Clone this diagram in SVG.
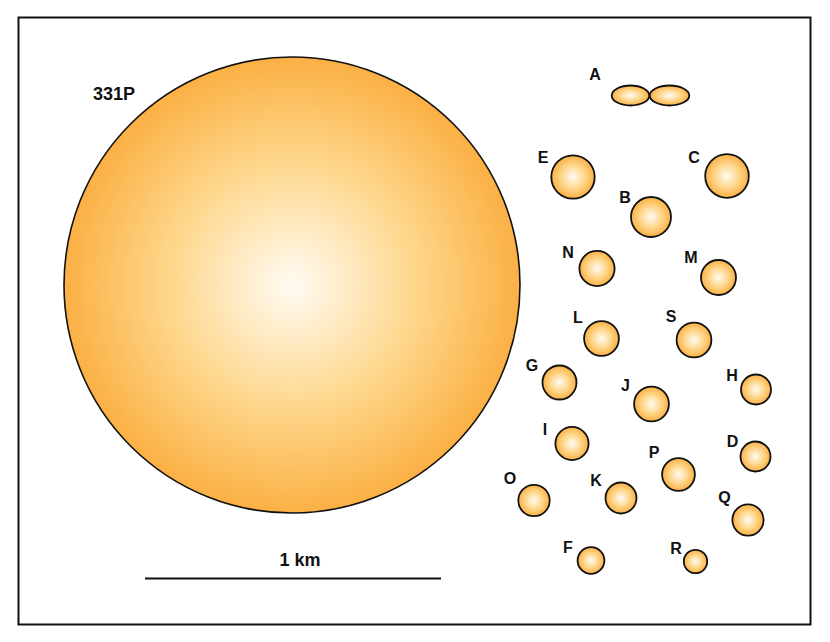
<svg xmlns="http://www.w3.org/2000/svg" width="830" height="642" viewBox="0 0 830 642">
<style>
.lbl{font-family:"Liberation Sans",Arial,sans-serif;font-weight:bold;font-size:16px;fill:#111;text-anchor:middle}
.big{font-size:18px}
.body{fill:url(#g);stroke:#111;stroke-width:1.8}
</style>
<defs>
<radialGradient id="g" cx="0.5" cy="0.5" r="0.5">
<stop offset="0" stop-color="#fffbf3"/>
<stop offset="0.55" stop-color="#fed68a"/>
<stop offset="1" stop-color="#fbb044"/>
</radialGradient>
</defs>
<rect x="0" y="0" width="830" height="642" fill="#fff"/>
<rect x="18.5" y="17.5" width="792" height="607" fill="none" stroke="#111" stroke-width="2"/>
<g id="n331P"><circle class="body" cx="292" cy="285" r="228" style="stroke-width:1.6"/><text class="lbl big" x="114" y="100">331P</text></g>
<g id="nA"><ellipse class="body" cx="630.5" cy="95.5" rx="18.8" ry="10"/><ellipse class="body" cx="669.5" cy="95.5" rx="19.8" ry="10"/><text class="lbl" x="595" y="80">A</text></g>
<g id="nE"><circle class="body" cx="573" cy="177" r="21.7"/><text class="lbl" x="543" y="163">E</text></g>
<g id="nC"><circle class="body" cx="727" cy="176" r="21.8"/><text class="lbl" x="694" y="163">C</text></g>
<g id="nB"><circle class="body" cx="651" cy="217" r="20"/><text class="lbl" x="625" y="203">B</text></g>
<g id="nN"><circle class="body" cx="597" cy="268.5" r="17.6"/><text class="lbl" x="568" y="258">N</text></g>
<g id="nM"><circle class="body" cx="718.5" cy="277.5" r="17.5"/><text class="lbl" x="691" y="262.5">M</text></g>
<g id="nL"><circle class="body" cx="601.5" cy="338.5" r="17.4"/><text class="lbl" x="578" y="322.5">L</text></g>
<g id="nS"><circle class="body" cx="694" cy="340" r="17.4"/><text class="lbl" x="671" y="322">S</text></g>
<g id="nG"><circle class="body" cx="559.5" cy="382.5" r="17"/><text class="lbl" x="532" y="371">G</text></g>
<g id="nH"><circle class="body" cx="756" cy="389.5" r="15"/><text class="lbl" x="732" y="381">H</text></g>
<g id="nJ"><circle class="body" cx="651.5" cy="404" r="17.4"/><text class="lbl" x="625.5" y="391">J</text></g>
<g id="nI"><circle class="body" cx="572" cy="443.5" r="16.6"/><text class="lbl" x="545" y="435">I</text></g>
<g id="nD"><circle class="body" cx="755.5" cy="456.5" r="15"/><text class="lbl" x="732.5" y="446.5">D</text></g>
<g id="nP"><circle class="body" cx="678.5" cy="474.5" r="16.4"/><text class="lbl" x="654" y="458">P</text></g>
<g id="nO"><circle class="body" cx="534" cy="500.5" r="15.7"/><text class="lbl" x="510" y="484">O</text></g>
<g id="nK"><circle class="body" cx="621" cy="498" r="15.5"/><text class="lbl" x="596" y="485.5">K</text></g>
<g id="nQ"><circle class="body" cx="748" cy="520" r="15.6"/><text class="lbl" x="724.5" y="503">Q</text></g>
<g id="nF"><circle class="body" cx="591" cy="560.5" r="13.4"/><text class="lbl" x="568" y="552.5">F</text></g>
<g id="nR"><circle class="body" cx="695.5" cy="561.5" r="11.7"/><text class="lbl" x="676" y="554">R</text></g>
<g id="scale"><line x1="145" y1="578.5" x2="441" y2="578.5" stroke="#111" stroke-width="2"/><text class="lbl big" x="300" y="565.5">1 km</text></g>
<g id="connectors"></g>
</svg>
